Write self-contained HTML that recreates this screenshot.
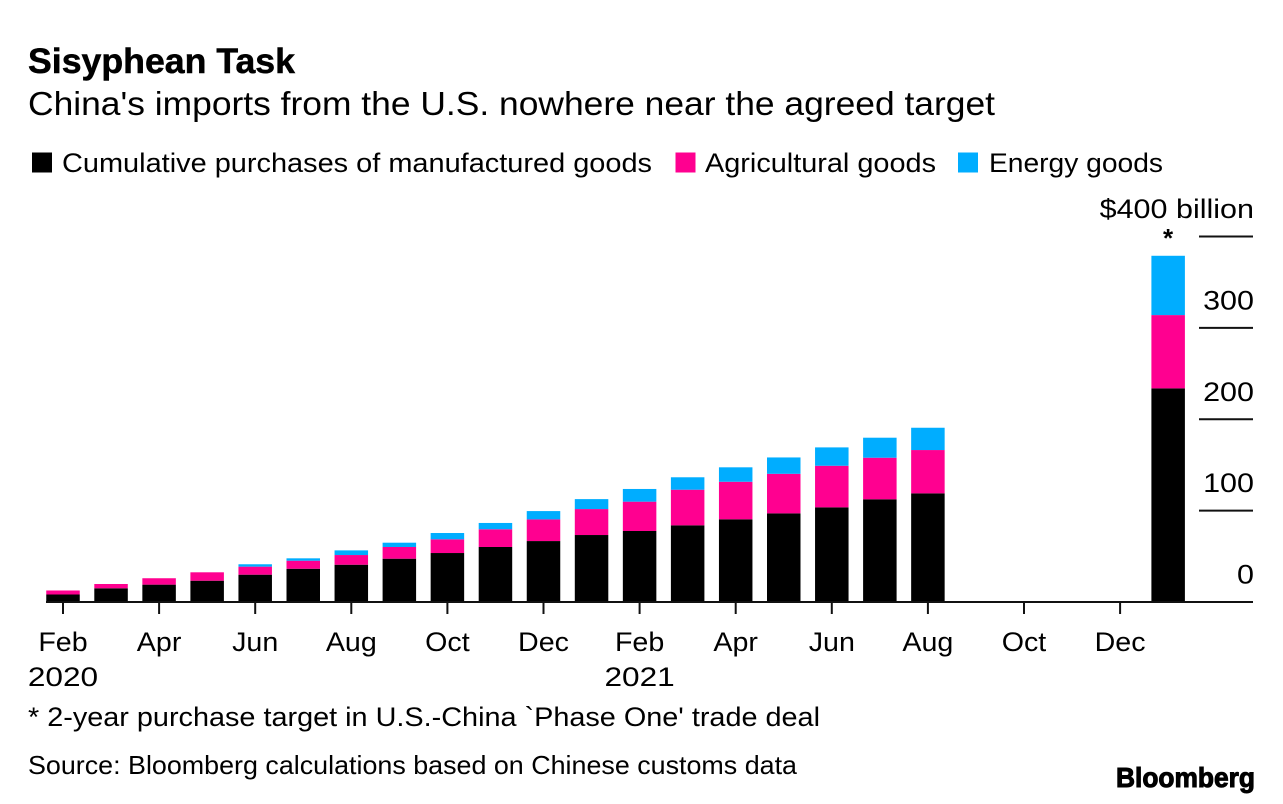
<!DOCTYPE html>
<html lang="en">
<head>
<meta charset="utf-8">
<title>Sisyphean Task</title>
<style>
html,body{margin:0;padding:0;background:#fff;width:1283px;height:804px;overflow:hidden}
svg{display:block}
text{font-family:"Liberation Sans",sans-serif;fill:#000}
</style>
</head>
<body>
<svg id="chart" xmlns="http://www.w3.org/2000/svg" width="1283" height="804" viewBox="0 0 1283 804">
  <text x="28" y="73" font-size="35" font-weight="700" stroke="#000" stroke-width="0.5" textLength="267" lengthAdjust="spacingAndGlyphs">Sisyphean Task</text>
  <text x="28" y="115" font-size="33" textLength="967" lengthAdjust="spacingAndGlyphs">China's imports from the U.S. nowhere near the agreed target</text>
  <g>
    <rect x="32" y="152.5" width="20" height="20" fill="#000"/>
    <text x="62" y="172" font-size="27" textLength="590" lengthAdjust="spacingAndGlyphs">Cumulative purchases of manufactured goods</text>
    <rect x="675.5" y="152.5" width="20" height="20" fill="#ff0090"/>
    <text x="705" y="172" font-size="27" textLength="231" lengthAdjust="spacingAndGlyphs">Agricultural goods</text>
    <rect x="958" y="152.5" width="20" height="20" fill="#00adff"/>
    <text x="989" y="172" font-size="27" textLength="174" lengthAdjust="spacingAndGlyphs">Energy goods</text>
  </g>
  <g id="bars"></g>
  <g id="axes"></g>
  <text x="1168" y="247" font-size="26" font-weight="700" text-anchor="middle">*</text>
  <text x="28" y="726" font-size="27" textLength="792" lengthAdjust="spacingAndGlyphs">* 2-year purchase target in U.S.-China `Phase One' trade deal</text>
  <text x="28" y="774" font-size="26" textLength="769" lengthAdjust="spacingAndGlyphs">Source: Bloomberg calculations based on Chinese customs data</text>
  <text x="1116" y="787" font-size="28" font-weight="700" stroke="#000" stroke-width="1" textLength="139" lengthAdjust="spacingAndGlyphs">Bloomberg</text>
</svg>
<script>
const monthIndexes = [0,1,2,3,4,5,6,7,8,9,10,11,12,13,14,15,16,17,18,23];
const manufactured = [8.2,15,19,23.3,29.9,36.4,40.8,47.4,53.6,60.2,66.7,73.3,77.7,83.9,90.5,97,103.6,112.4,118.9,233.8];
const agricultural = [4.4,4.7,7,9.2,8.8,8.8,10.6,12.8,15,19.4,23.7,28.4,32.1,39,41.1,43.3,45.5,45.5,47.4,80.2];
const energy = [0,0,0,0,2.6,2.6,5.1,4.7,6.9,6.9,9.1,10.9,13.9,13.6,15.8,17.9,20.1,21.9,24.4,64.9];
const xTickMonths = [0,2,4,6,8,10,12,14,16,18,20,22];
const xTickLabels = ['Feb','Apr','Jun','Aug','Oct','Dec','Feb','Apr','Jun','Aug','Oct','Dec'];
const yearMonths = [0,12];
const yearLabels = ['2020','2021'];
const yTicks = [0,100,200,300,400];
const yTickLabels = ['0','100','200','300','$400 billion'];

const NS = 'http://www.w3.org/2000/svg';
const xScale = m => 63 + m * 48.05;
const yScale = v => 602 - v * 0.91375;
const barWidth = 33.5;
const bars = document.getElementById('bars');
const axes = document.getElementById('axes');

function drawSegment(m, start, value, color, parent) {
  const r = document.createElementNS(NS, 'rect');
  r.setAttribute('x', xScale(m) - barWidth / 2);
  r.setAttribute('y', yScale(start + value));
  r.setAttribute('width', barWidth);
  r.setAttribute('height', yScale(start) - yScale(start + value));
  r.setAttribute('fill', color);
  parent.appendChild(r);
  return r;
}
function drawLine(x1, y1, x2, y2, parent) {
  const l = document.createElementNS(NS, 'line');
  l.setAttribute('x1', x1);
  l.setAttribute('y1', y1);
  l.setAttribute('x2', x2);
  l.setAttribute('y2', y2);
  l.setAttribute('stroke', '#111');
  l.setAttribute('stroke-width', 2);
  parent.appendChild(l);
  return l;
}
function drawText(x, y, str, anchor, stretch, parent) {
  const t = document.createElementNS(NS, 'text');
  t.setAttribute('x', x);
  t.setAttribute('y', y);
  t.setAttribute('font-size', 27);
  t.setAttribute('text-anchor', anchor);
  t.textContent = str;
  parent.appendChild(t);
  t.setAttribute('textLength', t.getComputedTextLength() * stretch);
  t.setAttribute('lengthAdjust', 'spacingAndGlyphs');
  return t;
}

monthIndexes.forEach((m, i) => {
  const a = drawSegment(m, 0, manufactured[i], '#000', bars);
  
  
  const b = drawSegment(m, manufactured[i], agricultural[i], '#ff0090', bars);
  
  
  if (energy[i] > 0) {
    const c = drawSegment(m, manufactured[i] + agricultural[i], energy[i], '#00adff', bars);
    
    
  }
});

const baseline = drawLine(46, yScale(0), 1253, yScale(0), axes);



xTickMonths.forEach((m, i) => {
  const tick = drawLine(xScale(m), yScale(0), xScale(m), yScale(0) + 12, axes);
  
  
  const label = drawText(xScale(m), 651, xTickLabels[i], 'middle', 1.06, axes);
  
  
});

yearMonths.forEach((m, i) => {
  const label = drawText(xScale(m), 686, yearLabels[i], 'middle', 1.17, axes);
  
  
});

yTicks.forEach((v, i) => {
  if (v > 0) {
    const tick = drawLine(1199, yScale(v), 1253, yScale(v), axes);
    
    
  }
  const label = drawText(1254, yScale(v) - 18.5, yTickLabels[i], 'end', 1.13, axes);
  
  
});
</script>
</body>
</html>
